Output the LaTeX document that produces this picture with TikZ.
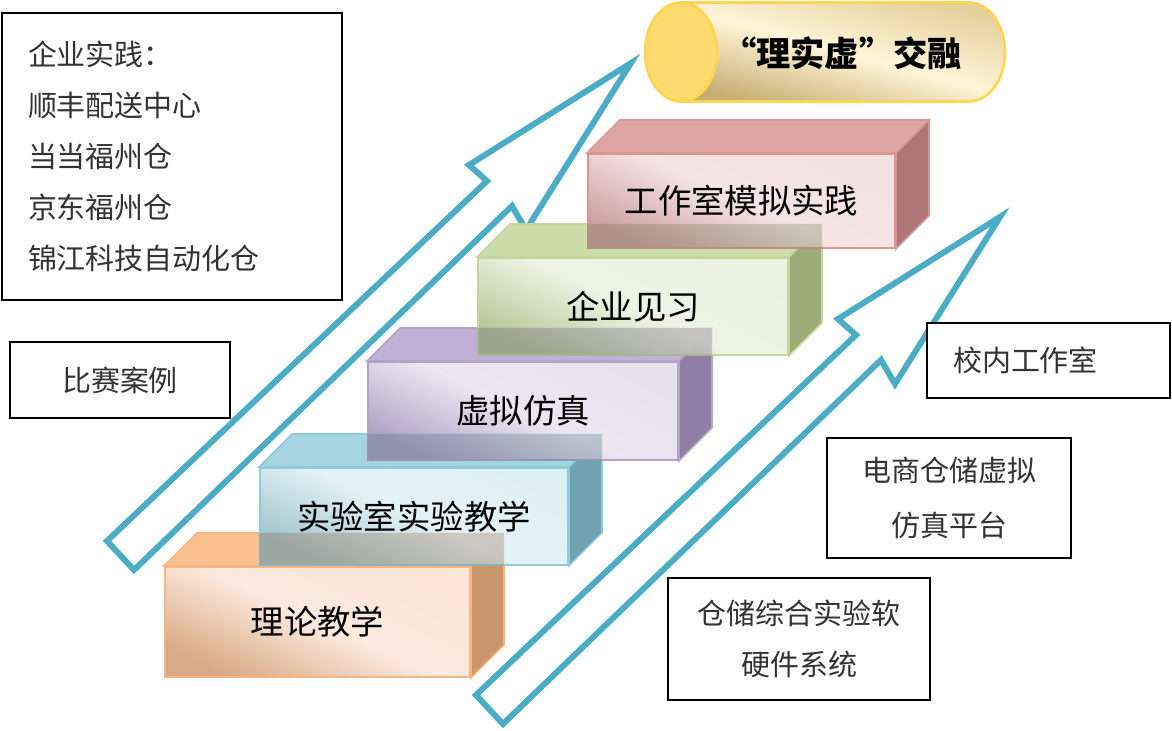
\documentclass[tikz,border=0pt]{standalone}
\usepackage{fontspec}
\setmainfont{Noto Sans CJK SC}

\definecolor{arrowteal}{HTML}{4BACC6}
\definecolor{orgTop}{HTML}{FAC090}
\definecolor{orgSide}{HTML}{C9966B}
\definecolor{orgLight}{HTML}{FBE4D5}
\definecolor{orgDark}{HTML}{D6A37B}
\definecolor{orgEdge}{HTML}{F8B57F}
\definecolor{bluTop}{HTML}{A5D4E0}
\definecolor{bluSide}{HTML}{6FA3AF}
\definecolor{bluLight}{HTML}{DCEFF4}
\definecolor{bluDark}{HTML}{98BEC8}
\definecolor{bluEdge}{HTML}{8FCCDA}
\definecolor{purTop}{HTML}{C0B0D5}
\definecolor{purSide}{HTML}{8F7FA6}
\definecolor{purLight}{HTML}{E6E0EE}
\definecolor{purDark}{HTML}{A99CC0}
\definecolor{purEdge}{HTML}{B4A3C9}
\definecolor{grnTop}{HTML}{CCDDAA}
\definecolor{grnSide}{HTML}{9BAC78}
\definecolor{grnLight}{HTML}{EAF1DD}
\definecolor{grnDark}{HTML}{B1C290}
\definecolor{grnEdge}{HTML}{C3D69B}
\definecolor{redTop}{HTML}{DFA5A5}
\definecolor{redSide}{HTML}{B07676}
\definecolor{redLight}{HTML}{F3DEDE}
\definecolor{redDark}{HTML}{C99999}
\definecolor{redEdge}{HTML}{DA9694}
\definecolor{cylTop}{HTML}{E3D09A}
\definecolor{cylMid}{HTML}{FFF5D8}
\definecolor{cylBot}{HTML}{C6AE72}
\definecolor{cylEnd}{HTML}{FFDA6E}
\definecolor{cylEdge}{HTML}{FFD450}

\begin{document}
\begin{tikzpicture}[thick]
    \useasboundingbox (0,0) rectangle (23.44,14.62);

    \tikzstyle{band}=[draw=arrowteal,fill=white,line width=3.4pt,line join=miter]
    \tikzstyle{txtbox}=[rectangle,draw=black,line width=1.6pt,fill=white,
            text=black!80,font=\fontsize{16.5}{29}\selectfont]
    \tikzset{
        slab/.style={rectangle,draw=#1Edge,line width=1pt,
            top color=#1Light,bottom color=#1Dark,middle color=#1Light!85!white,
            shading angle=-25,fill opacity=0.92,text opacity=1,
            minimum width=6.16cm,minimum height=1.94cm,
            font=\fontsize{19}{23}\selectfont},
        lid/.style={fill=#1Top,draw=#1Edge,line width=1pt},
        flank/.style={fill=#1Side,draw=#1Edge,line width=1pt},
        dusk/.style={fill=#1Side!70!black,opacity=0.27}
    }

    % ============================
    % Arrows
    % ============================

    \draw[band] (9.52,0.72) -- (17.12,7.92) -- (16.76,8.24) -- (20.0,10.28)
        -- (17.9,6.94) -- (17.62,7.42) -- (10.06,0.14) -- cycle;
    \draw[band,shift={(-7.38,3.08)}] (9.52,0.72) -- (17.12,7.92) -- (16.76,8.24) -- (20.0,10.28)
        -- (17.9,6.94) -- (17.62,7.42) -- (10.06,0.14) -- cycle;

    % ============================
    % Side boxes
    % ============================

    \node[txtbox,align=left,text width=5.76cm,inner xsep=0.52cm,
            minimum height=5.74cm] (practice) at (3.44,11.49)
            {企业实践：\\顺丰配送中心\\当当福州仓\\京东福州仓\\锦江科技自动化仓};
    \node[txtbox,minimum width=4.4cm,minimum height=1.52cm] (cases) at (2.4,7.02) {比赛案例};
    \node[txtbox,align=left,text width=3.82cm,inner xsep=0.52cm,
            minimum height=1.5cm] (campus) at (20.97,7.41) {校内工作室};
    \node[txtbox,align=center,minimum width=4.88cm,minimum height=2.4cm,
            font=\fontsize{16.5}{31}\selectfont] (platform) at (18.98,4.66)
            {电商仓储虚拟\\仿真平台};
    \node[txtbox,align=center,minimum width=5.24cm,minimum height=2.44cm] (kit) at (15.98,1.84)
            {仓储综合实验软\\硬件系统};

    % ============================
    % Steps
    % ============================

    \node[slab=org,minimum width=6.1cm,minimum height=2.2cm] (theory) at (6.35,2.18) {理论教学};
    \filldraw[lid=org] (theory.north west) -- ++(0.66,0.66) -- ([shift={(0.66,0.66)}]theory.north east) -- (theory.north east) -- cycle;
    \filldraw[flank=org] (theory.north east) -- ++(0.66,0.66) -- ([shift={(0.66,0.66)}]theory.south east) -- (theory.south east) -- cycle;

    \node[slab=blu] (lab) at (8.28,4.29) {实验室实验教学};
    \filldraw[lid=blu] (lab.north west) -- ++(0.66,0.66) -- ([shift={(0.66,0.66)}]lab.north east) -- (lab.north east) -- cycle;
    \filldraw[flank=blu] (lab.north east) -- ++(0.66,0.66) -- ([shift={(0.66,0.66)}]lab.south east) -- (lab.south east) -- cycle;
    \fill[dusk=org] (lab.south west) rectangle ([shift={(0.66,0.66)}]theory.north east);

    \node[slab=pur,minimum width=6.2cm,minimum height=1.96cm] (virt) at (10.46,6.40) {虚拟仿真};
    \filldraw[lid=pur] (virt.north west) -- ++(0.66,0.66) -- ([shift={(0.66,0.66)}]virt.north east) -- (virt.north east) -- cycle;
    \filldraw[flank=pur] (virt.north east) -- ++(0.66,0.66) -- ([shift={(0.66,0.66)}]virt.south east) -- (virt.south east) -- cycle;
    \fill[dusk=blu] (virt.south west) rectangle ([shift={(0.66,0.66)}]lab.north east);

    \node[slab=grn,minimum width=6.2cm] (firm) at (12.66,8.49) {企业见习};
    \filldraw[lid=grn] (firm.north west) -- ++(0.66,0.66) -- ([shift={(0.66,0.66)}]firm.north east) -- (firm.north east) -- cycle;
    \filldraw[flank=grn] (firm.north east) -- ++(0.66,0.66) -- ([shift={(0.66,0.66)}]firm.south east) -- (firm.south east) -- cycle;
    \fill[dusk=pur] (firm.south west) rectangle ([shift={(0.66,0.66)}]virt.north east);

    \node[slab=red,minimum width=6.14cm,minimum height=1.88cm] (studio) at (14.83,10.60) {工作室模拟实践};
    \filldraw[lid=red] (studio.north west) -- ++(0.66,0.66) -- ([shift={(0.66,0.66)}]studio.north east) -- (studio.north east) -- cycle;
    \filldraw[flank=red] (studio.north east) -- ++(0.66,0.66) -- ([shift={(0.66,0.66)}]studio.south east) -- (studio.south east) -- cycle;
    \fill[dusk=grn] (studio.south west) rectangle ([shift={(0.66,0.66)}]firm.north east);

    % ============================
    % Goal cylinder
    % ============================

    \shade[top color=cylTop,bottom color=cylBot,middle color=cylMid,shading angle=-15]
        (13.62,14.57) -- (19.38,14.57) arc[start angle=90,end angle=-90,x radius=0.72,y radius=0.99]
        -- (13.62,12.59) -- cycle;
    \draw[cylEdge,line width=1.5pt] (13.62,14.57) -- (19.38,14.57)
        arc[start angle=90,end angle=-90,x radius=0.72,y radius=0.99] -- (13.62,12.59);
    \filldraw[fill=cylEnd,draw=cylEdge,line width=1.5pt] (13.62,13.58) ellipse [x radius=0.72,y radius=0.99];
    \node[font=\fontsize{19.5}{23}\selectfont\bfseries] (fusion) at (16.84,13.56) {“理实虚”交融};

\end{tikzpicture}
\end{document}
